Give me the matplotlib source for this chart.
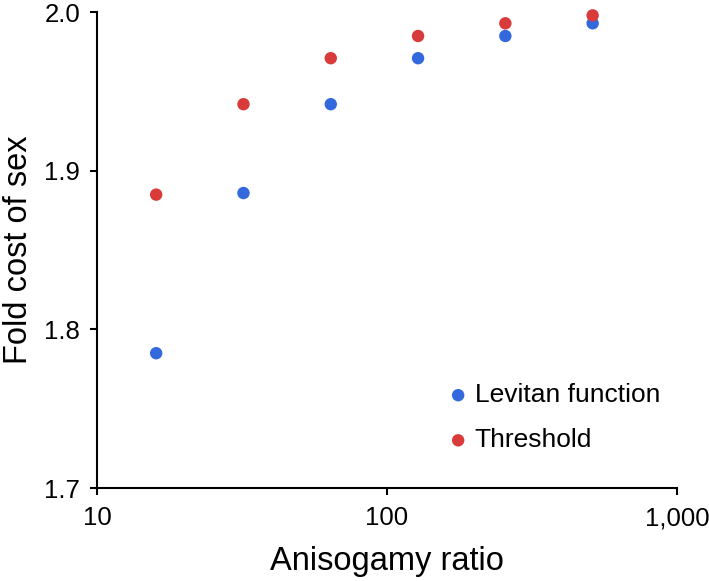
import matplotlib.pyplot as plt
from matplotlib.ticker import FixedLocator, NullLocator

plt.rcParams['font.family'] = ['Liberation Sans', 'DejaVu Sans']

# anisogamy ratios and fold cost values
ratio = [16, 32, 64, 128, 256, 512]
levitan = [1.785, 1.886, 1.942, 1.971, 1.985, 1.993]
threshold = [1.885, 1.942, 1.971, 1.985, 1.993, 1.998]

xticks = [10, 100, 1000]
xtick_labels = ['10', '100', '1,000']
yticks = [1.7, 1.8, 1.9, 2.0]

fig = plt.figure(figsize=(7.09, 5.81), dpi=100)
ax = fig.add_axes([0.1368, 0.160, 0.818, 0.819])

ax.scatter(ratio, levitan, s=80, color='#3469dd', edgecolors='none',
           label='Levitan function', zorder=3, clip_on=False)
ax.scatter(ratio, threshold, s=80, color='#d93b3b', edgecolors='none',
           label='Threshold', zorder=3, clip_on=False)

ax.set_xscale('log')
ax.set_xlim(10, 1000)
ax.set_ylim(1.7, 2.0)
ax.xaxis.set_major_locator(FixedLocator(xticks))
ax.xaxis.set_minor_locator(NullLocator())
ax.set_xticklabels(xtick_labels)
ax.set_yticks(yticks)
ax.set_yticklabels([f'{v:.1f}' for v in yticks])

for s in ['top', 'right']:
    ax.spines[s].set_visible(False)
for s in ['left', 'bottom']:
    ax.spines[s].set_linewidth(1.5)
ax.tick_params(direction='out', length=5, width=1.5, labelsize=18.5)
ax.tick_params(axis='x', pad=8)
ax.tick_params(axis='y', pad=7)

ax.set_xlabel('Anisogamy ratio', fontsize=23.5)
ax.xaxis.set_label_coords(0.5, -0.122)
ax.set_ylabel('Fold cost of sex', fontsize=23.5)
ax.yaxis.set_label_coords(-0.109, 0.5)

ax.legend(loc='upper left', bbox_to_anchor=(0.60, 0.2205), frameon=False,
          fontsize=19, handlelength=1.0, handletextpad=0.12,
          labelspacing=0.8, borderaxespad=0, borderpad=0)

fig.savefig('out.png', dpi=100)
